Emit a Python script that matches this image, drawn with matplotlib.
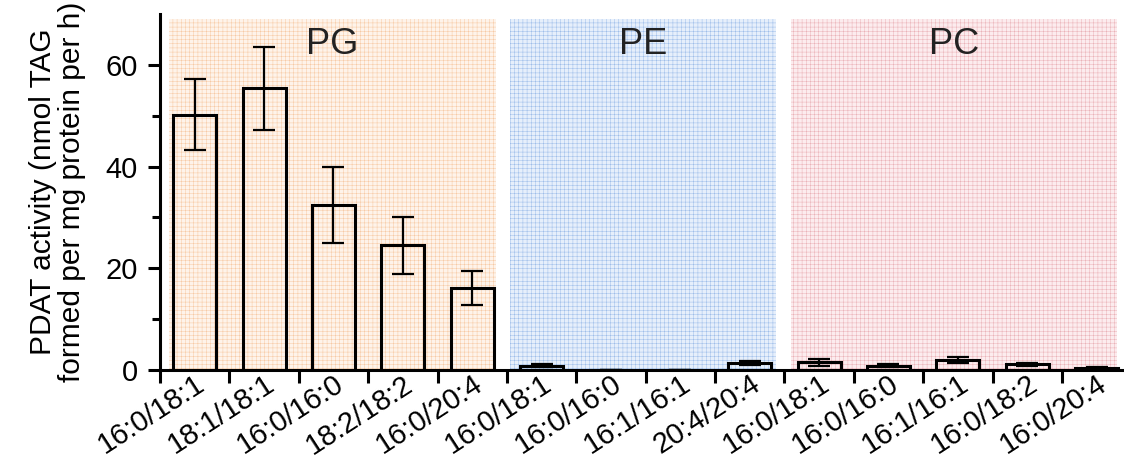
import numpy as np
import matplotlib.pyplot as plt
import matplotlib.transforms as mtransforms

plt.rcParams['font.family'] = ['Liberation Sans', 'DejaVu Sans']
plt.rcParams['hatch.linewidth'] = 0.35

# data
labels = ['16:0/18:1', '18:1/18:1', '16:0/16:0', '18:2/18:2', '16:0/20:4',
          '16:0/18:1', '16:0/16:0', '16:1/16:1', '20:4/20:4',
          '16:0/18:1', '16:0/16:0', '16:1/16:1', '16:0/18:2', '16:0/20:4']
means = [50.2, 55.4, 32.4, 24.5, 16.1,
         0.8, 0.0, 0.0, 1.4,
         1.5, 0.8, 1.9, 1.1, 0.4]
errs = [7.0, 8.2, 7.5, 5.6, 3.4,
        0.3, 0.0, 0.0, 0.4,
        0.7, 0.3, 0.6, 0.35, 0.15]
groups = ['PG', 'PE', 'PC']
group_spans = [(-0.37, 4.34), (4.54, 8.38), (8.59, 13.29)]
group_face = ['#fef3ea', '#e6effb', '#fcecee']
group_hatch = ['#f7c9a3', '#9dbde9', '#eab2b7']

fig = plt.figure(figsize=(11.24, 4.62), dpi=100)
ax = fig.add_axes([160/1124, 92/462, 963/1124, 356/462])

x = np.arange(len(labels))

# shaded group backgrounds
for (a, b), fc, hc, g in zip(group_spans, group_face, group_hatch, groups):
    ax.fill_between([a, b], 0, 69.0, facecolor=fc, edgecolor=hc,
                    hatch='++++', linewidth=0, zorder=0)
    ax.text((a + b) / 2, 67.5, g, ha='center', va='top', fontsize=26,
            color='#222222', zorder=3)

ax.bar(x, means, width=0.62, facecolor='none', edgecolor='black',
       linewidth=2.2, zorder=2)
ax.errorbar(x, means, yerr=errs, fmt='none', ecolor='black', elinewidth=1.6,
            capsize=8, capthick=1.6, zorder=3)

ax.set_xlim(-0.5, 13.38)
ax.set_ylim(0, 70)
ax.set_yticks([0, 20, 40, 60])
ax.set_yticks([10, 30, 50], minor=True)
ax.set_xticks(x)
ax.set_xticks(np.arange(-0.5, 13.5, 1), minor=True)
ax.set_xticklabels(labels, rotation=33, ha='right', va='top',
                   rotation_mode='anchor')
offset = mtransforms.ScaledTranslation(0.04, -0.2, fig.dpi_scale_trans)
for lab in ax.get_xticklabels():
    lab.set_transform(lab.get_transform() + offset)

ax.tick_params(axis='x', which='major', length=0, labelsize=21, pad=0)
ax.tick_params(axis='x', which='minor', length=9, width=2.2)
ax.tick_params(axis='y', which='major', length=9, width=2.2, labelsize=21,
               pad=7)
ax.tick_params(axis='y', which='minor', length=6, width=2.2)

for s in ['top', 'right']:
    ax.spines[s].set_visible(False)
for s in ['left', 'bottom']:
    ax.spines[s].set_linewidth(2.2)

ax.set_ylabel('PDAT activity (nmol TAG\nformed per mg protein per h)',
              fontsize=21.5, linespacing=1.05, labelpad=14)

fig.savefig('out.png', dpi=100)
